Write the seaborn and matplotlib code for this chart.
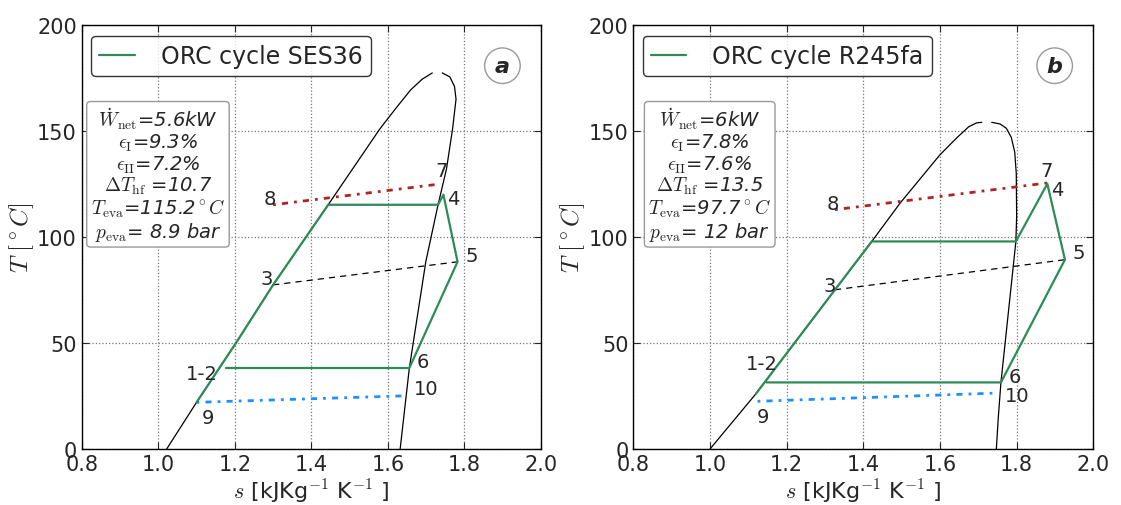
import matplotlib
matplotlib.use("Agg")
import matplotlib.pyplot as plt
import seaborn as sns
import numpy as np

# ---------------- data ----------------
# Panel a (SES36)
a_dome_left_s = [1.022, 1.10, 1.203, 1.30, 1.444, 1.579, 1.622, 1.660, 1.690, 1.716]
a_dome_left_T = [0, 22, 50, 77.4, 115.2, 151, 161, 169.5, 174.5, 177.4]
a_dome_right_s = [1.742, 1.762, 1.774, 1.778, 1.769, 1.753, 1.731, 1.699, 1.656, 1.632]
a_dome_right_T = [177.4, 175.5, 171, 165, 151, 132, 115.2, 88.3, 38.2, 0]
a_cycle_s = [1.10, 1.203, 1.30, 1.444, 1.731, 1.745, 1.782, 1.656, 1.177]
a_cycle_T = [22, 50, 77.4, 115.2, 115.2, 120.0, 88.3, 38.2, 38.2]
a_hot_s = [1.30, 1.736]
a_hot_T = [115.2, 125.0]
a_cold_s = [1.10, 1.649]
a_cold_T = [22.0, 25.1]
a_exp_s = [1.30, 1.782]
a_exp_T = [77.4, 88.3]
a_labels = ["8", "7", "4", "5", "3", "1-2", "6", "10", "9"]
a_label_s = [1.292, 1.740, 1.770, 1.819, 1.284, 1.113, 1.692, 1.699, 1.129]
a_label_T = [118, 131.3, 118, 91.4, 80.2, 35.5, 41.5, 28.4, 15]
a_info = ["$\\dot{W}_{\\rm net}$=5.6kW", "$\\epsilon_{\\rm I}$=9.3%",
          "$\\epsilon_{\\rm II}$=7.2%", "$\\Delta T_{\\rm hf}$ =10.7",
          "$T_{\\rm eva}$=115.2$^\\circ C$", "$p_{\\rm eva}$= 8.9 bar"]

# Panel b (R245fa)
b_dome_left_s = [1.0, 1.12, 1.326, 1.422, 1.496, 1.600, 1.645, 1.675, 1.695, 1.709]
b_dome_left_T = [0, 26.1, 75.1, 97.9, 116, 138.8, 147, 152, 153.8, 154.1]
b_dome_right_s = [1.735, 1.757, 1.773, 1.786, 1.795, 1.799, 1.800, 1.798, 1.759, 1.752, 1.747]
b_dome_right_T = [154.1, 153.3, 151.3, 147, 140, 130, 110, 97.9, 31.4, 14.6, 0]
b_cycle_s = [1.12, 1.326, 1.422, 1.798, 1.880, 1.926, 1.759, 1.148]
b_cycle_T = [26.1, 75.1, 97.9, 97.9, 125.1, 89.3, 31.4, 31.4]
b_hot_s = [1.326, 1.880]
b_hot_T = [112.9, 125.5]
b_cold_s = [1.124, 1.752]
b_cold_T = [22.5, 26.4]
b_exp_s = [1.326, 1.926]
b_exp_T = [75.1, 89.3]
b_labels = ["7", "4", "8", "5", "3", "6", "10", "1-2", "9"]
b_label_s = [1.877, 1.906, 1.321, 1.961, 1.312, 1.796, 1.802, 1.134, 1.138]
b_label_T = [131.6, 122.3, 115.6, 92.6, 77.3, 34.1, 25.4, 40.1, 15.1]
b_info = ["$\\dot{W}_{\\rm net}$=6kW", "$\\epsilon_{\\rm I}$=7.8%",
          "$\\epsilon_{\\rm II}$=7.6%", "$\\Delta T_{\\rm hf}$ =13.5",
          "$T_{\\rm eva}$=97.7$^\\circ C$", "$p_{\\rm eva}$= 12 bar"]

legend_labels = ["ORC cycle SES36", "ORC cycle R245fa"]
panel_tags = ["a", "b"]
x_ticks = [0.8, 1.0, 1.2, 1.4, 1.6, 1.8, 2.0]
y_ticks = [0, 50, 100, 150, 200]

# ---------------- style ----------------
sns.set_style("ticks")
plt.rcParams["font.family"] = ["DejaVu Sans"]
plt.rcParams["mathtext.fontset"] = "cm"
plt.rcParams["xtick.direction"] = "in"
plt.rcParams["ytick.direction"] = "in"
plt.rcParams["xtick.top"] = True
plt.rcParams["ytick.right"] = True

fig = plt.figure(figsize=(11.21, 5.06), dpi=100)
axA = fig.add_axes([0.0729, 0.1107, 0.4097, 0.8379])
axB = fig.add_axes([0.5650, 0.1107, 0.4103, 0.8379])

GREEN = "#2e8b57"
RED = "#b22222"
BLUE = "#1e90ff"

panels = [
    (axA, a_dome_left_s, a_dome_left_T, a_dome_right_s, a_dome_right_T, a_cycle_s, a_cycle_T,
     a_hot_s, a_hot_T, a_cold_s, a_cold_T, a_exp_s, a_exp_T, a_labels, a_label_s, a_label_T,
     a_info),
    (axB, b_dome_left_s, b_dome_left_T, b_dome_right_s, b_dome_right_T, b_cycle_s, b_cycle_T,
     b_hot_s, b_hot_T, b_cold_s, b_cold_T, b_exp_s, b_exp_T, b_labels, b_label_s, b_label_T,
     b_info),
]

for i, (ax, dls, dlT, drs, drT, cs, cT, hs, hT, ks, kT, es, eT, labs, ls, lT, info) in enumerate(panels):
    kw = dict(sort=False, estimator=None, ax=ax)
    sns.lineplot(x=dls, y=dlT, color="black", lw=0.9, **kw)
    sns.lineplot(x=drs, y=drT, color="black", lw=0.9, **kw)
    sns.lineplot(x=hs, y=hT, color=RED, lw=2.0, linestyle=(0, (1, 2.2, 2.2, 2.2)), **kw)
    sns.lineplot(x=ks, y=kT, color=BLUE, lw=2.0, linestyle=(0, (1, 2.2, 2.2, 2.2)), **kw)
    sns.lineplot(x=es, y=eT, color="black", lw=0.9, linestyle=(0, (5, 4)), **kw)
    sns.lineplot(x=cs, y=cT, color=GREEN, lw=1.6, label=legend_labels[i], **kw)

    for t, s, T in zip(labs, ls, lT):
        ax.text(s, T, t, ha="center", va="center", fontsize=14)

    ax.text(0.166, 0.812, "\n".join(info), transform=ax.transAxes, ha="center", va="top",
            multialignment="center", fontsize=14, style="italic", linespacing=1.04,
            bbox=dict(boxstyle="round,pad=0.2", fc="white", ec="#999999", lw=1.0))

    ax.text(0.916, 0.904, panel_tags[i], transform=ax.transAxes, ha="center", va="center",
            fontsize=16, fontweight="bold", style="italic",
            bbox=dict(boxstyle="circle,pad=0.35", fc="white", ec="#999999", lw=1.0))

    ax.set_xlim(0.8, 2.0)
    ax.set_ylim(0, 200)
    ax.set_xticks(x_ticks)
    ax.set_yticks(y_ticks)
    ax.set_xticklabels([f"{v:.1f}" for v in x_ticks])
    ax.set_yticklabels([str(v) for v in y_ticks])
    ax.tick_params(labelsize=15, length=5, width=0.8)
    ax.grid(True, color="#777777", linestyle=":", linewidth=0.9)
    for sp in ax.spines.values():
        sp.set_linewidth(1.0)
        sp.set_color("black")
    ax.set_xlabel("$s$ [kJKg$^{-1}$ K$^{-1}$ ]", fontsize=16, labelpad=2)
    ax.set_ylabel("$T\\ [^\\circ C]$", fontsize=18, labelpad=1)

    leg = ax.legend(loc="upper left", fontsize=17, frameon=True, fancybox=True,
                    handlelength=1.5, handletextpad=1.1, borderpad=0.35,
                    bbox_to_anchor=(0.02, 0.975), borderaxespad=0.0)
    leg.get_frame().set_edgecolor("black")
    leg.get_frame().set_linewidth(1.0)

fig.savefig("out.png", dpi=100)
